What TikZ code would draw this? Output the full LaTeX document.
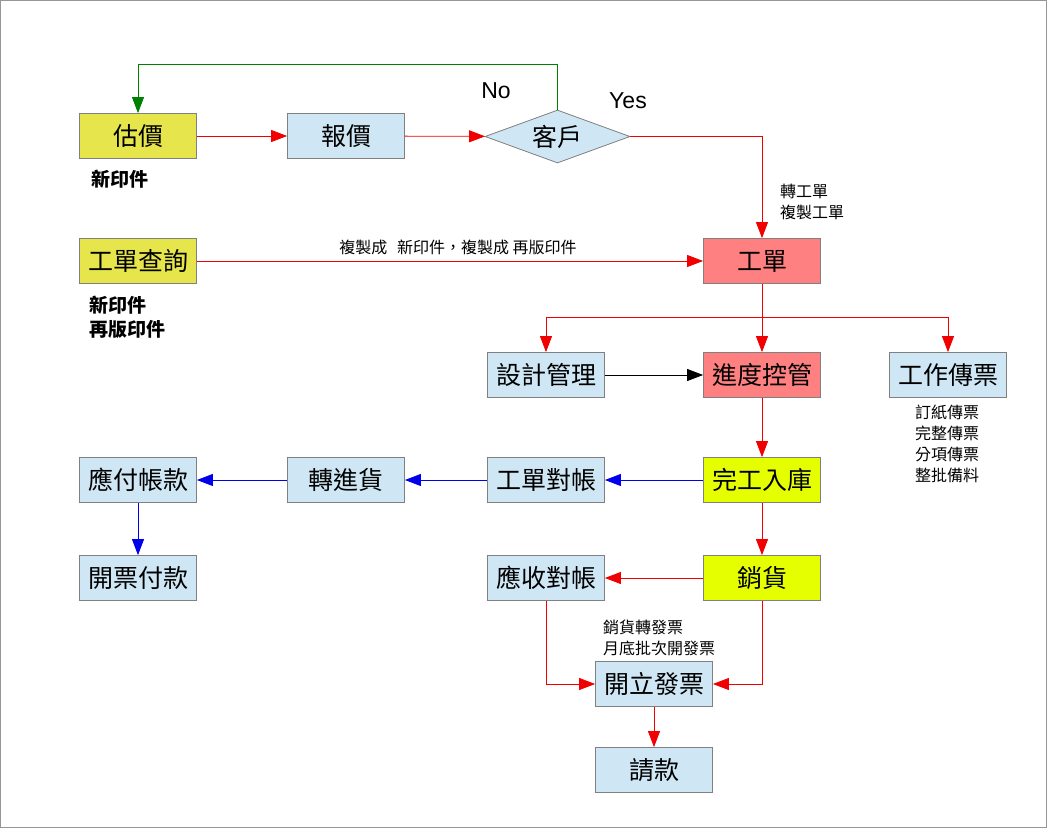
\documentclass[tikz,border=0pt]{standalone}
\usepackage{fontspec}
\setmainfont{Noto Sans CJK TC}
\newfontfamily\latinf{Liberation Sans}
\usetikzlibrary{arrows.meta,shapes.geometric}
\definecolor{boxblue}{RGB}{207,231,245}
\definecolor{boxolive}{RGB}{230,230,76}
\definecolor{boxyellow}{RGB}{230,255,0}
\definecolor{boxred}{RGB}{255,128,128}
\definecolor{boxgray}{RGB}{128,128,128}
\definecolor{framegray}{RGB}{150,150,150}
\definecolor{lred}{RGB}{240,0,0}
\definecolor{lblue}{RGB}{0,0,235}
\definecolor{lgreen}{RGB}{0,128,0}
\begin{document}
\begin{tikzpicture}[x=1pt,y=-1pt,
  box/.style={draw=boxgray, line width=0.8pt, minimum width=117pt, minimum height=45pt, inner sep=0pt, font=\fontsize{25}{25}\selectfont},
  bbox/.style={box, fill=boxblue},
  obox/.style={box, fill=boxolive},
  ybox/.style={box, fill=boxyellow},
  rbox/.style={box, fill=boxred},
  conn/.style={line width=0.8pt, -{Triangle[length=16pt,width=12pt]}},
  rconn/.style={conn, draw=lred},
  bconn/.style={conn, draw=lblue},
  gconn/.style={conn, draw=lgreen},
  kconn/.style={conn, draw=black},
  note/.style={font=\fontsize{16}{21}\selectfont, align=left, inner sep=0pt, anchor=west},
  bnote/.style={font=\bfseries\fontsize{19}{24}\selectfont, align=left, inner sep=0pt, anchor=west},
  yn/.style={font=\latinf\fontsize{23}{23}\selectfont, inner sep=0pt}
]
\useasboundingbox (0,0) rectangle (1047,828);
\draw[framegray, line width=1pt] (0.5,0.5) rectangle (1046.5,827.5);

% nodes
\node[obox] (est) at (138,136) {估價};
\node[bbox] (quote) at (346,136) {報價};
\node[diamond, draw=boxgray, fill=boxblue, line width=0.8pt, aspect=2.8, minimum width=145pt, minimum height=53pt, inner sep=0pt, font=\fontsize{25}{25}\selectfont] (cust) at (557.5,136.5) {客戶};
\node[obox] (query) at (138,261) {工單查詢};
\node[rbox] (wo) at (762,261) {工單};
\node[bbox] (design) at (546,375) {設計管理};
\node[rbox] (ctl) at (762,375) {進度控管};
\node[bbox] (ticket) at (948,375) {工作傳票};
\node[bbox] (ap) at (138,480) {應付帳款};
\node[bbox] (purch) at (346,480) {轉進貨};
\node[bbox] (recon) at (546,480) {工單對帳};
\node[ybox] (done) at (762,480) {完工入庫};
\node[bbox] (pay) at (138,578) {開票付款};
\node[bbox] (ar) at (546,578) {應收對帳};
\node[ybox] (sale) at (762,578) {銷貨};
\node[bbox] (inv) at (654,684) {開立發票};
\node[bbox] (bill) at (654,770) {請款};

% labels
\node[bnote] (l1) at (91,179) {新印件};
\node[bnote] (l2) at (89,317) {新印件\\再版印件};
\node[yn] (no) at (496,91) {No};
\node[yn] (yes) at (628,101) {Yes};
\node[note] (l3) at (780,202) {轉工單\\複製工單};
\node[note, anchor=center] (l4) at (458,247) {複製成\hspace{0.6em}新印件，複製成 再版印件};
\node[note] (l5) at (915,444) {訂紙傳票\\完整傳票\\分項傳票\\整批備料};
\node[note] (l6) at (603,638) {銷貨轉發票\\月底批次開發票};

% connectors
\coordinate (gtop) at (557.5,64);
\draw[gconn] (cust.north) -- (gtop) -| (est.north);
\draw[rconn] (est) -- (quote);
\draw[rconn] (quote) -- (cust);
\draw[rconn] (cust.east) -| (wo.north);
\draw[rconn] (query) -- (wo);
\draw[rconn] (wo) -- (ctl);
\coordinate (br) at (762,317);
\draw[lred, line width=0.8pt] (design.north |- br) -- (ticket.north |- br);
\draw[rconn] (design.north |- br) -- (design.north);
\draw[rconn] (ticket.north |- br) -- (ticket.north);
\draw[kconn] (design) -- (ctl);
\draw[rconn] (ctl) -- (done);
\draw[bconn] (done) -- (recon);
\draw[bconn] (recon) -- (purch);
\draw[bconn] (purch) -- (ap);
\draw[bconn] (ap) -- (pay);
\draw[rconn] (done) -- (sale);
\draw[rconn] (sale) -- (ar);
\draw[rconn] (ar.south) |- (inv.west);
\draw[rconn] (sale.south) |- (inv.east);
\draw[rconn] (inv) -- (bill);
\end{tikzpicture}
\end{document}
